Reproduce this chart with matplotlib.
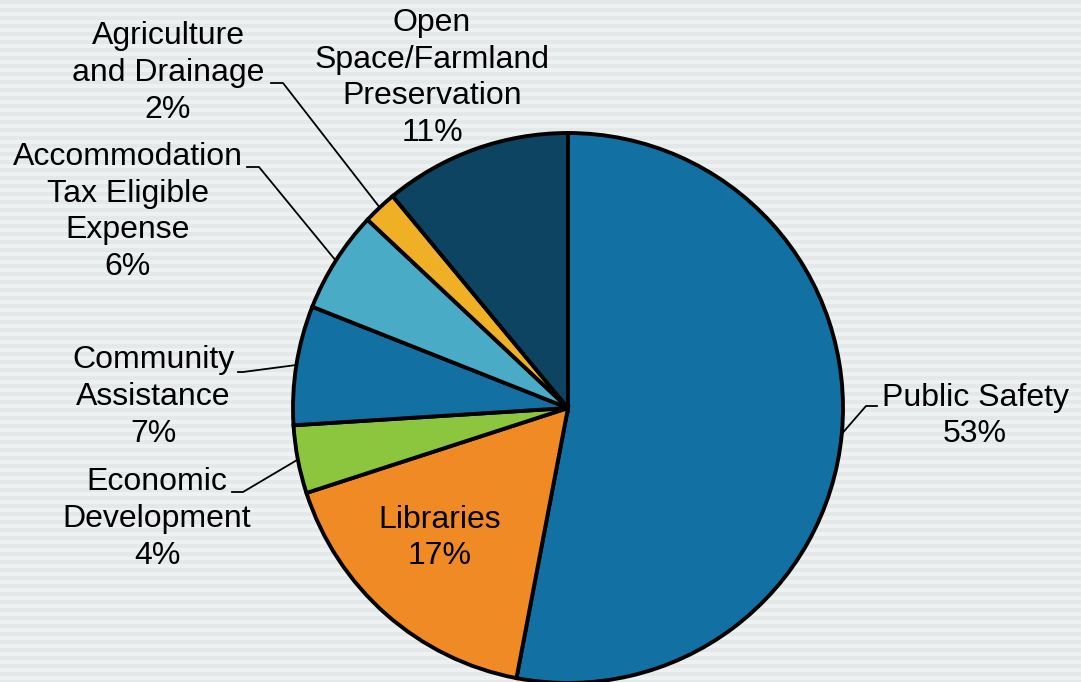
"""Pie chart of spending by category, with leader lines to the outside labels."""
import numpy as np
import matplotlib
matplotlib.use("Agg")
import matplotlib.pyplot as plt

plt.rcParams["font.family"] = ["Liberation Sans", "DejaVu Sans"]

categories = [
    "Public Safety",
    "Libraries",
    "Economic\nDevelopment",
    "Community\nAssistance",
    "Accommodation\nTax Eligible\nExpense",
    "Agriculture\nand Drainage",
    "Open\nSpace/Farmland\nPreservation",
]
shares = [53, 17, 4, 7, 6, 2, 11]
colors = ["#1271a2", "#f08a24", "#8cc63f", "#1271a2", "#4aabc6", "#f0b025", "#0d4461"]

# figure is laid out in pixel units (y up), 1081 x 682
W, H = 1081, 682
center = (568, H - 408)
radius = 275

# label block centres and leader elbows (None = label inside, no leader)
label_pos = [(975, H - 416), (440, H - 538), (157, H - 519), (153, H - 397),
             (128, H - 212), (168, H - 73), (432, H - 78)]
elbows = [((866, H - 406), (877, H - 406)),
          None,
          ((243, H - 492), (232, H - 492)),
          ((243, H - 372), (238, H - 372)),
          ((259, H - 167), (247, H - 167)),
          ((283, H - 83), (271, H - 83)),
          None]

fig = plt.figure(figsize=(W / 100, H / 100), dpi=100)
ax = fig.add_axes([0, 0, 1, 1])

# light striped backdrop
rows = np.arange(H)
stripe = np.where((rows // 4) % 2 == 0, 0.915, 0.95)
bg = np.repeat(stripe[:, None], 8, axis=1)
bg = np.stack([bg * 0.985, bg * 0.995, bg * 1.0], axis=-1).clip(0, 1)
ax.imshow(bg, extent=(0, W, 0, H), aspect="auto", zorder=0, interpolation="nearest")

wedges, _ = ax.pie(shares, colors=colors, startangle=90, counterclock=False,
                   center=center, radius=radius, frame=True,
                   wedgeprops=dict(edgecolor="black", linewidth=2.8))
for w in wedges:
    w.set_zorder(2)

for w, label, share, pos, elbow in zip(wedges, categories, shares, label_pos, elbows):
    ax.text(pos[0], pos[1], f"{label}\n{share}%", ha="center", va="center",
            multialignment="center", fontsize=23, linespacing=1.3, zorder=4)
    if elbow is None:
        continue
    mid = np.deg2rad((w.theta1 + w.theta2) / 2)
    edge = (center[0] + radius * np.cos(mid), center[1] + radius * np.sin(mid))
    xs = [edge[0], elbow[0][0], elbow[1][0]]
    ys = [edge[1], elbow[0][1], elbow[1][1]]
    ax.plot(xs, ys, color="black", linewidth=1.3, zorder=3)

ax.set_xlim(0, W)
ax.set_ylim(0, H)
ax.set_aspect("equal")
ax.axis("off")

fig.savefig("out.png", dpi=100)
